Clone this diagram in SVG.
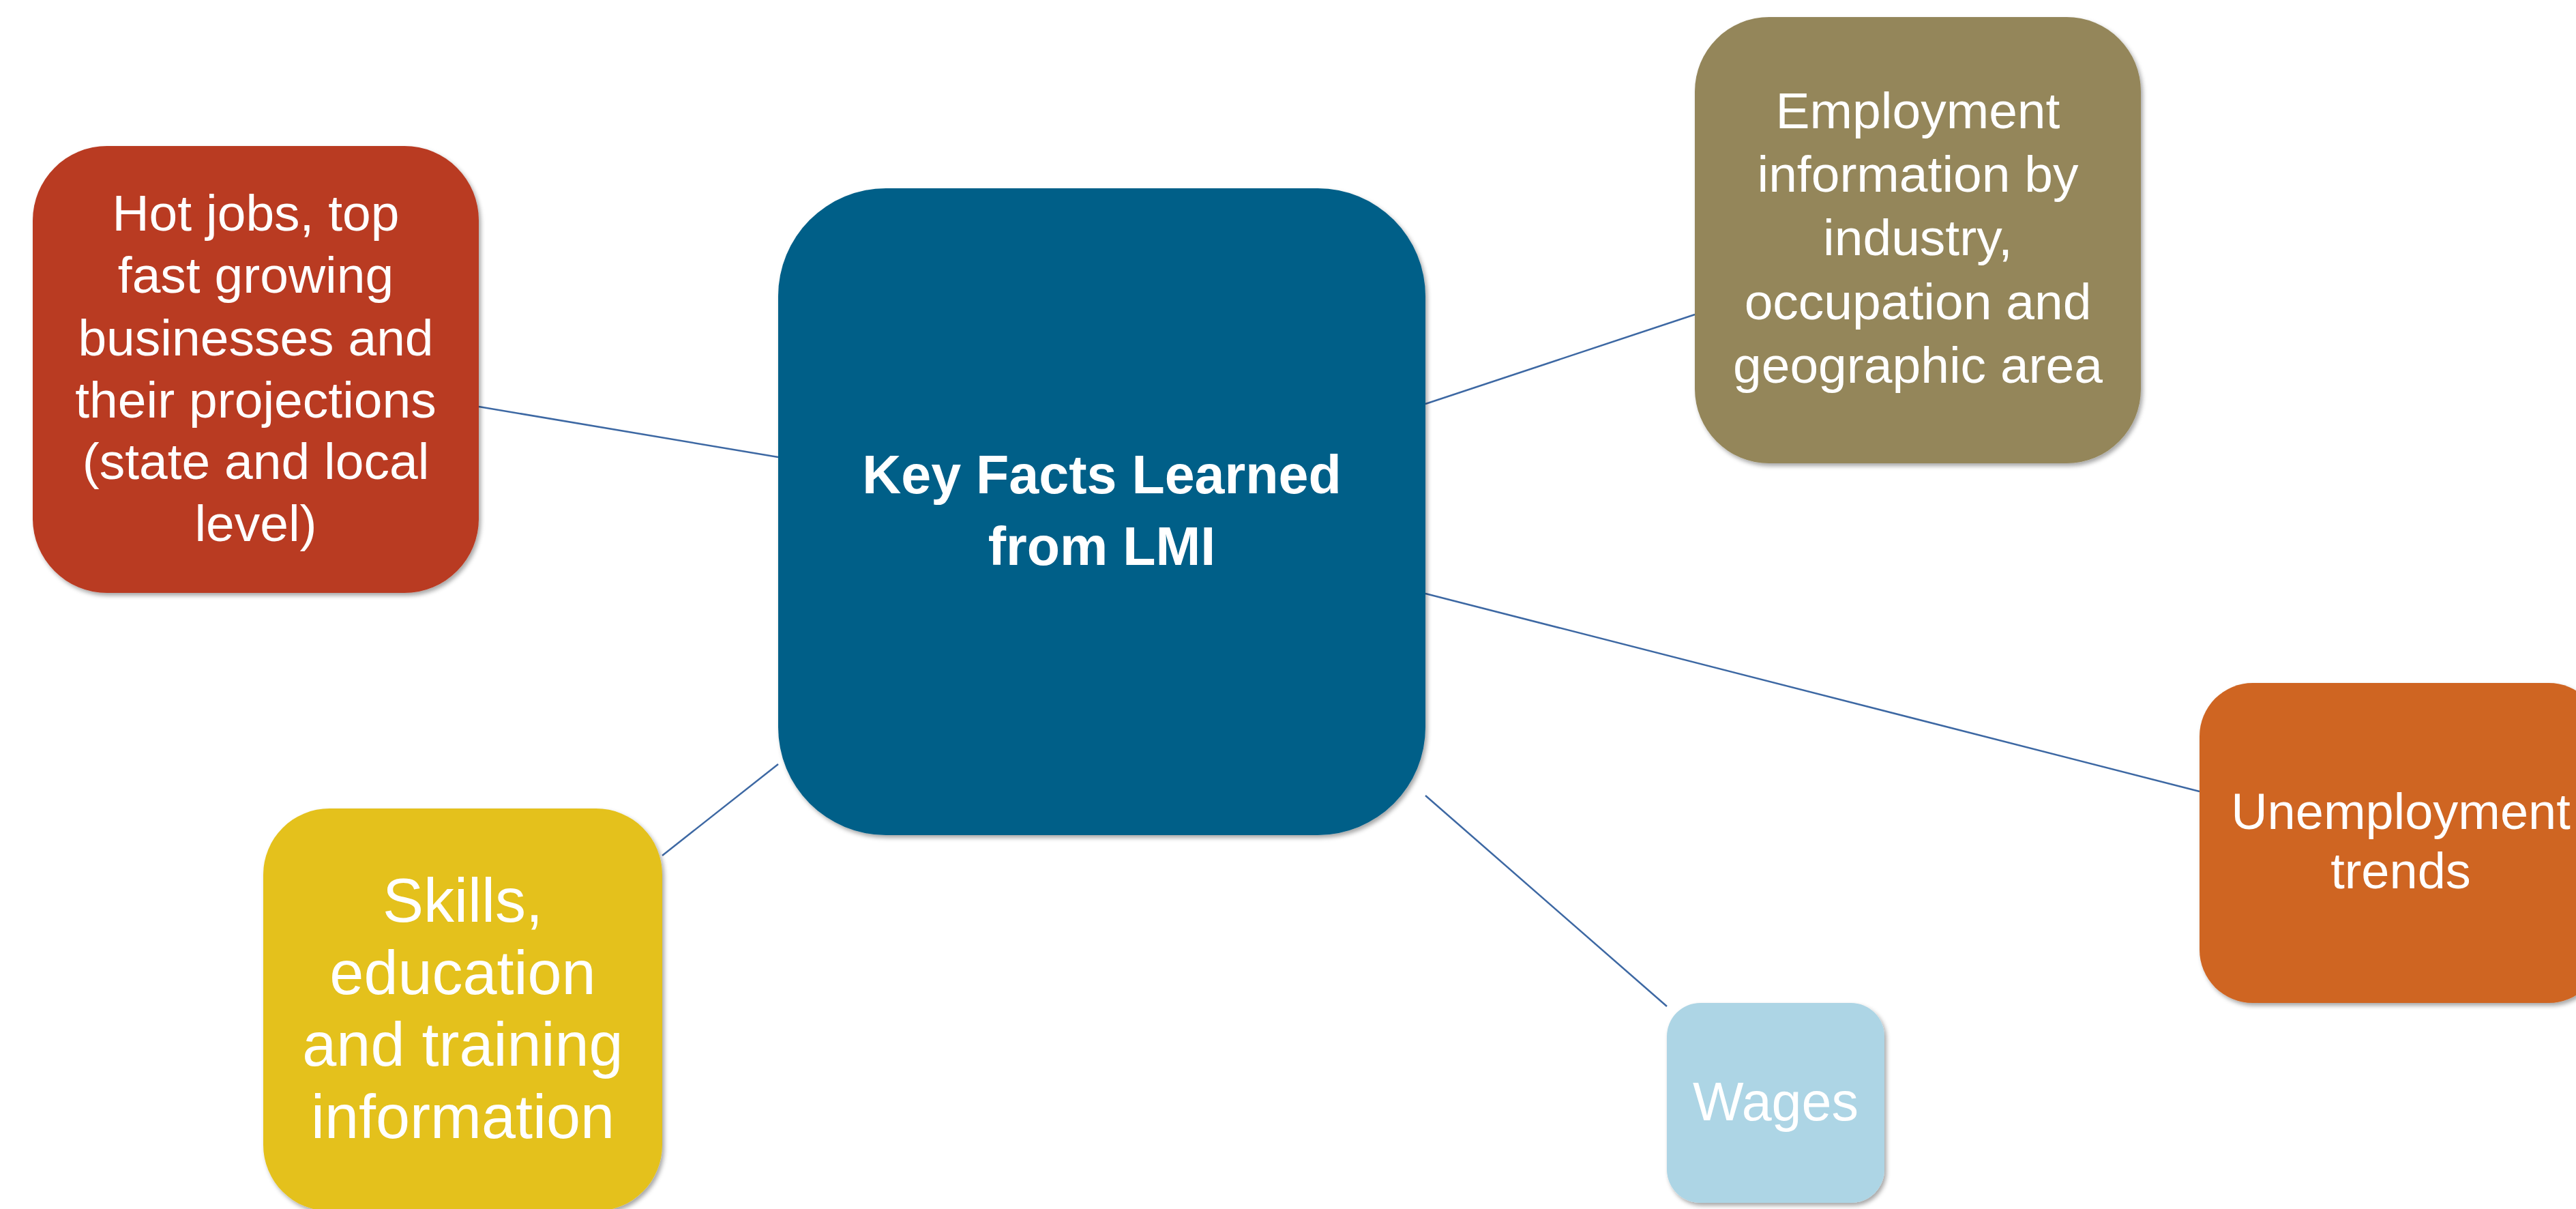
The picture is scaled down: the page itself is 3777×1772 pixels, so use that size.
<svg xmlns="http://www.w3.org/2000/svg" width="3777" height="1772" viewBox="0 0 3777 1772">
<defs>
<filter id="sh" x="-5%" y="-5%" width="115%" height="115%">
<feDropShadow dx="3" dy="4" stdDeviation="3" flood-color="#000" flood-opacity="0.35"/>
</filter>
</defs>
<style>
.box{filter:url(#sh);}
.t{font-family:"Liberation Sans",Arial,sans-serif;fill:#ffffff;text-anchor:middle;}
.conn{stroke:#3D68A3;stroke-width:2.5;fill:none;}
</style>
<rect width="3777" height="1772" fill="#ffffff"/>
<g id="connectors">
<line class="conn" x1="702" y1="596" x2="1141" y2="670"/>
<line class="conn" x1="2090" y1="592" x2="2485" y2="461"/>
<line class="conn" x1="2090" y1="870" x2="3225" y2="1160"/>
<line class="conn" x1="2090" y1="1166" x2="2444" y2="1475"/>
<line class="conn" x1="1141" y1="1120" x2="971" y2="1254"/>
</g>
<g id="center">
<rect class="box" x="1141" y="276" width="949" height="948" rx="158" fill="#035F88"/>
<text class="t" font-size="79" font-weight="bold"><tspan x="1615.5" y="723">Key Facts Learned</tspan><tspan x="1615.5" y="828">from LMI</tspan></text>
</g>
<g id="hot-jobs">
<rect class="box" x="48" y="214" width="654" height="655" rx="109" fill="#B93A22"/>
<text class="t" font-size="75"><tspan x="375" y="338">Hot jobs, top</tspan><tspan x="375" y="429">fast growing</tspan><tspan x="375" y="521">businesses and</tspan><tspan x="375" y="612">their projections</tspan><tspan x="375" y="702">(state and local</tspan><tspan x="375" y="793">level)</tspan></text>
</g>
<g id="employment">
<rect class="box" x="2485" y="25" width="654" height="654" rx="109" fill="#94865A"/>
<text class="t" font-size="75"><tspan x="2812" y="188">Employment</tspan><tspan x="2812" y="281">information by</tspan><tspan x="2812" y="374">industry,</tspan><tspan x="2812" y="468">occupation and</tspan><tspan x="2812" y="561">geographic area</tspan></text>
</g>
<g id="unemployment">
<rect class="box" x="3225" y="1001" width="590" height="469" rx="78" fill="#CF6522"/>
<text class="t" font-size="74"><tspan x="3520" y="1215">Unemployment</tspan><tspan x="3520" y="1302">trends</tspan></text>
</g>
<g id="skills">
<rect class="box" x="386" y="1185" width="585" height="590" rx="97" fill="#E4C11D"/>
<text class="t" font-size="90"><tspan x="678.5" y="1351">Skills,</tspan><tspan x="678.5" y="1457">education</tspan><tspan x="678.5" y="1562">and training</tspan><tspan x="678.5" y="1668">information</tspan></text>
</g>
<g id="wages">
<rect class="box" x="2444" y="1470" width="319" height="293" rx="49" fill="#ADD5E5"/>
<text class="t" font-size="79"><tspan x="2603.5" y="1642">Wages</tspan></text>
</g>
</svg>
